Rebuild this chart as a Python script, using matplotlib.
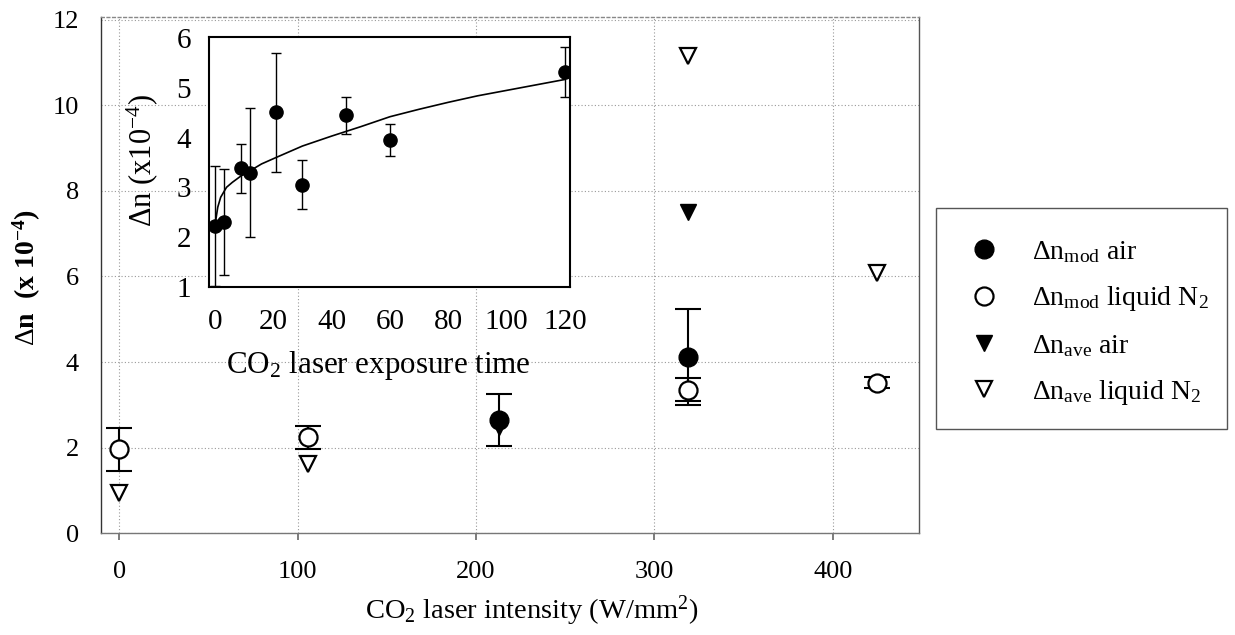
import matplotlib
matplotlib.use("Agg")
import matplotlib.pyplot as plt
from matplotlib.patches import Rectangle

plt.rcParams['font.family'] = ['Liberation Serif', 'DejaVu Serif']
plt.rcParams['mathtext.fontset'] = 'custom'
plt.rcParams['mathtext.rm'] = 'Liberation Serif'
plt.rcParams['mathtext.it'] = 'Liberation Serif:italic'
plt.rcParams['mathtext.bf'] = 'Liberation Serif:bold'

# ---- main chart data ----
xticks_main = [0, 100, 200, 300, 400]
yticks_main = [0, 2, 4, 6, 8, 10, 12]

mod_air_x = [213, 319]
mod_air = [2.65, 4.11]
mod_air_err = [0.61, 1.12]

mod_n2_x = [0, 106, 319, 425]
mod_n2 = [1.96, 2.24, 3.35, 3.52]
mod_n2_err = [0.50, 0.26, 0.27, 0.13]

ave_air_x = [213, 319]
ave_air = [2.48, 7.51]

ave_n2_x = [0, 106, 319, 425]
ave_n2 = [0.95, 1.61, 11.14, 6.07]

# ---- inset data ----
time = [0, 3, 9, 12, 21, 30, 45, 60, 120]
dn_time = [2.22, 2.30, 3.38, 3.29, 4.51, 3.05, 4.45, 3.95, 5.32]
dn_time_err = [1.20, 1.06, 0.50, 1.30, 1.20, 0.49, 0.37, 0.33, 0.50]
xticks_inset = [0, 20, 40, 60, 80, 100, 120]
yticks_inset = [1, 2, 3, 4, 5, 6]

fit_t = [0, 1, 2, 4, 6, 9, 12, 16, 21, 30, 40, 50, 60, 70, 80, 90, 100, 110, 120]
fit_dn = [2.22, 2.60, 2.80, 3.00, 3.10, 3.23, 3.33, 3.47, 3.60, 3.83, 4.03, 4.22,
          4.42, 4.57, 4.71, 4.84, 4.95, 5.06, 5.17]

labels = [r"$\Delta$n$_{\rm mod}$ air", r"$\Delta$n$_{\rm mod}$ liquid N$_2$",
          r"$\Delta$n$_{\rm ave}$ air", r"$\Delta$n$_{\rm ave}$ liquid N$_2$"]

W, H = 1235, 635
fig = plt.figure(figsize=(W / 100, H / 100), dpi=100)

def fx(px):
    return px / W

def fy(py):
    return 1 - py / H

# main axes
L, R, T, B = 101, 919, 17, 533.3
ax = fig.add_axes([fx(L), fy(B), fx(R) - fx(L), fy(T) - fy(B)])
ax.set_xlim(-10.3, 448.3)
ax.set_ylim(0, 12.06)
ax.set_xticks(xticks_main)
ax.set_yticks(yticks_main)
ax.grid(True, color='#999999', linestyle=(0, (1, 2)), linewidth=0.8)
ax.set_axisbelow(True)
ax.tick_params(axis='x', direction='out', length=5, width=1.2, color='#666666',
               labelsize=19, pad=15)
ax.tick_params(axis='y', length=0, labelsize=19, pad=16)
ax.spines['left'].set_color('#333333')
ax.spines['right'].set_color('#555555')
ax.spines['bottom'].set_color('#777777')
ax.spines['top'].set_color('#888888')
ax.spines['top'].set_linestyle((0, (2, 2)))
for s in ax.spines.values():
    s.set_linewidth(1.0)

ebkw = dict(fmt='none', ecolor='black', elinewidth=1.5, capsize=9.2, capthick=1.5)
ax.errorbar(mod_air_x, mod_air, yerr=mod_air_err, zorder=3, **ebkw)
h1, = ax.plot(mod_air_x, mod_air, 'o', ms=13.5, mfc='black', mec='black', zorder=4,
              linestyle='none')
h3, = ax.plot(ave_air_x, ave_air, 'v', ms=11.5, mfc='black', mec='black', zorder=4,
              linestyle='none')
ax.errorbar(mod_n2_x, mod_n2, yerr=mod_n2_err, zorder=5, **ebkw)
h2, = ax.plot(mod_n2_x, mod_n2, 'o', ms=13, mfc='white', mec='black', mew=1.6,
              zorder=6, linestyle='none')
h4, = ax.plot(ave_n2_x, ave_n2, 'v', ms=11.5, mfc='white', mec='black', mew=1.6,
              zorder=6, linestyle='none')

fig.text(fx(531.5), fy(611), r"CO$_2$ laser intensity (W/mm$^2$)", fontsize=20.5,
         ha='center', va='center')
fig.text(fx(27), fy(278), r"$\Delta$n  (x 10$^{\mathbf{-4}}$)", fontsize=20,
         fontweight='bold', rotation=90, ha='center', va='center')

# legend (frame drawn separately)
fig.legend([h1, h2, h3, h4], labels, loc='upper left',
           bbox_to_anchor=(fx(970), fy(239)), fontsize=20, frameon=False,
           handlelength=1.0, handletextpad=1.25, borderpad=0,
           labelspacing=0.70, borderaxespad=0, numpoints=1)
fig.patches.append(Rectangle((fx(936), fy(429)), fx(1227) - fx(936),
                             fy(208) - fy(429), transform=fig.transFigure,
                             fill=False, edgecolor='#555555', linewidth=1.0))

# inset axes
iL, iR, iT, iB = 209.3, 570, 36.7, 286.7
ax2 = fig.add_axes([fx(iL), fy(iB), fx(iR) - fx(iL), fy(iT) - fy(iB)])
ax2.set_facecolor('white')
ax2.set_xlim(-1.9, 121.7)
ax2.set_ylim(1.03, 6.03)
ax2.set_xticks(xticks_inset)
ax2.set_yticks(yticks_inset)
ax2.tick_params(axis='both', length=0, labelsize=21)
ax2.tick_params(axis='x', pad=16)
ax2.tick_params(axis='y', pad=13)
for s in ax2.spines.values():
    s.set_linewidth(1.5)
    s.set_color('black')
ax2.plot(fit_t, fit_dn, color='black', linewidth=1.2, zorder=2)
ax2.errorbar(time, dn_time, yerr=dn_time_err, fmt='o', ms=9.5, mfc='black',
             mec='black', ecolor='black', elinewidth=1.0, capsize=3.6,
             capthick=1.0, zorder=3, clip_on=True)

fig.text(fx(378.7), fy(366), r"CO$_2$ laser exposure time", fontsize=22.3,
         ha='center', va='center')
fig.text(fx(142), fy(161), r"$\Delta$n (x10$^{-4}$)", fontsize=22,
         rotation=90, ha='center', va='center')

fig.savefig("out.png", dpi=100)
